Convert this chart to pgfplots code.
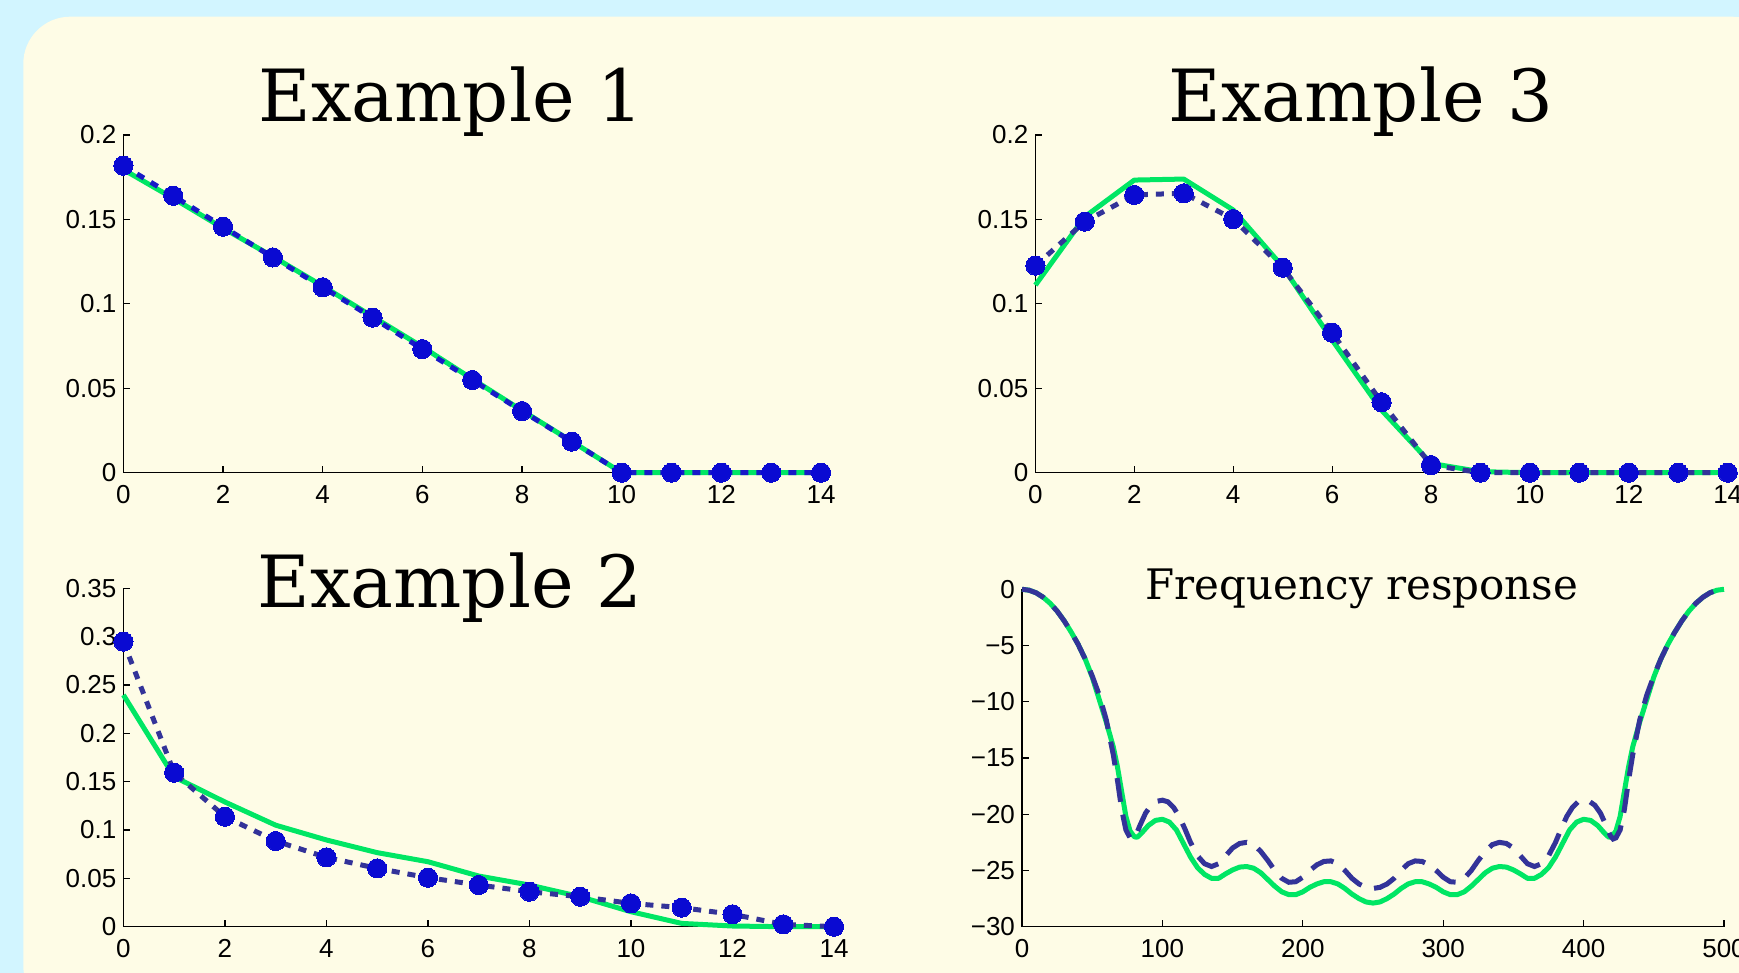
\documentclass[border=0pt]{standalone}
\usepackage{fontspec}
\usepackage{pgfplots}
\pgfplotsset{compat=1.18}
\newfontfamily\tickfont{Liberation Sans}
\newfontfamily\titlefont{DejaVu Serif}
\definecolor{bgcyan}{HTML}{D2F5FF}
\definecolor{cream}{HTML}{FEFCE6}
\definecolor{lgreen}{RGB}{0,230,100}
\definecolor{mblue}{RGB}{10,10,210}
\definecolor{dblue}{HTML}{333399}
\definecolor{bone}{RGB}{25,25,200}
\pgfplotsset{
  myaxis/.style={
    scale only axis, anchor=south west,
    axis lines=left, axis line style={-, line width=0.6pt, black},
    tick align=inside, major tick length=3.5pt,
    every tick/.style={black, line width=0.6pt},
    tick label style={font=\tickfont\fontsize{13}{13}\selectfont},
    xticklabel style={yshift=-2.7pt},
    clip=false,
  },
  greenline/.style={color=lgreen, line width=2.5pt, line join=round, mark=none},
  dotline/.style={line width=2.5pt, dash pattern=on 4pt off 4pt, mark=*, mark size=4.8pt,
    mark options={solid, fill=mblue, draw=mblue, line width=0pt}},
}
\begin{document}
\begin{tikzpicture}
\useasboundingbox (0,0) rectangle (869.5pt,486.5pt);
\clip (0,0) rectangle (869.5pt,486.5pt);
\fill[bgcyan] (0,0) rectangle (869.5pt,486.5pt);
\fill[cream, rounded corners=23.5pt] (11.65pt,-20pt) rectangle (889.5pt,478.15pt);

% Example 1
\begin{axis}[myaxis, at={(61.7pt,250.15pt)}, width=348.8pt, height=168.85pt,
  xmin=0, xmax=14, ymin=0, ymax=0.2,
  xtick={0,2,4,6,8,10,12,14}, xticklabels={0,2,4,6,8,10,12,14},
  ytick={0,0.05,0.1,0.15,0.2}, yticklabels={0,0.05,0.1,0.15,0.2}]
\addplot[greenline] coordinates {(0,0.1795) (1,0.1625) (2,0.1448) (3,0.128) (4,0.1105) (5,0.0925) (6,0.0745) (7,0.0555) (8,0.0368) (9,0.0185) (10,0) (11,0) (12,0) (13,0) (14,0)};
\addplot[dotline, color=bone] coordinates {(0,0.1818) (1,0.164) (2,0.1457) (3,0.1275) (4,0.1098) (5,0.0918) (6,0.0732) (7,0.0549) (8,0.0365) (9,0.0184) (10,0) (11,0) (12,0) (13,0) (14,0)};
\end{axis}

% Example 3
\begin{axis}[myaxis, at={(517.7pt,250.15pt)}, width=346.15pt, height=168.85pt,
  xmin=0, xmax=14, ymin=0, ymax=0.2,
  xtick={0,2,4,6,8,10,12,14}, xticklabels={0,2,4,6,8,10,12,14},
  ytick={0,0.05,0.1,0.15,0.2}, yticklabels={0,0.05,0.1,0.15,0.2}]
\addplot[greenline] coordinates {(0,0.1111) (1,0.1516) (2,0.1733) (3,0.1739) (4,0.1556) (5,0.122) (6,0.0786) (7,0.037) (8,0.0055) (9,0.0006) (10,0) (11,0) (12,0) (13,0) (14,0)};
\addplot[dotline, color=dblue] coordinates {(0,0.1226) (1,0.1487) (2,0.1645) (3,0.1655) (4,0.1502) (5,0.1214) (6,0.0829) (7,0.0417) (8,0.0045) (9,0) (10,0) (11,0) (12,0) (13,0) (14,0)};
\end{axis}

% Example 2
\begin{axis}[myaxis, at={(61.7pt,23.15pt)}, width=355.3pt, height=169.2pt,
  xmin=0, xmax=14, ymin=0, ymax=0.35,
  xtick={0,2,4,6,8,10,12,14}, xticklabels={0,2,4,6,8,10,12,14},
  ytick={0,0.05,0.1,0.15,0.2,0.25,0.3,0.35}, yticklabels={0,0.05,0.1,0.15,0.2,0.25,0.3,0.35}]
\addplot[greenline] coordinates {(0,0.2397) (1,0.155) (2,0.129) (3,0.105) (4,0.0897) (5,0.0766) (6,0.0672) (7,0.0524) (8,0.0431) (9,0.031) (10,0.0155) (11,0.0034) (12,0.0007) (13,0) (14,0)};
\addplot[dotline, color=dblue] coordinates {(0,0.2948) (1,0.1593) (2,0.1138) (3,0.0886) (4,0.0717) (5,0.0603) (6,0.0507) (7,0.0431) (8,0.0362) (9,0.031) (10,0.0241) (11,0.0197) (12,0.0128) (13,0.0024) (14,0)};
\end{axis}

% Frequency response
\begin{axis}[myaxis, at={(511pt,23.15pt)}, width=351pt, height=168.7pt,
  xmin=0, xmax=500, ymin=-30, ymax=0,
  xtick={0,100,200,300,400,500}, xticklabels={0,100,200,300,400,500},
  ytick={-30,-25,-20,-15,-10,-5,0}, yticklabels={−30,−25,−20,−15,−10,−5,0}]
\addplot[greenline] coordinates {
(0,0) (5,-0.08) (10,-0.31) (15,-0.7) (20,-1.24) (25,-1.94) (30,-2.8) (35,-3.8) (40,-4.9) (45,-6.2)
(50,-7.8) (55,-9.8) (60,-11.8) (65,-14.0) (68,-15.8) (71,-18.0) (74,-20.2) (77,-21.5) (80,-22.0) (82,-22.05)
(85,-21.7) (90,-21.0) (95,-20.55) (100,-20.45) (105,-20.7) (110,-21.4) (115,-22.6) (120,-23.8) (125,-24.75) (130,-25.35)
(135,-25.7) (140,-25.7) (145,-25.3) (150,-24.95) (155,-24.7) (160,-24.65) (165,-24.8) (170,-25.2) (175,-25.8) (180,-26.4)
(185,-26.9) (190,-27.15) (195,-27.15) (200,-26.9) (205,-26.5) (210,-26.2) (215,-26.0) (220,-26.0) (225,-26.2) (230,-26.6)
(235,-27.1) (240,-27.5) (245,-27.8) (250,-27.9)
(255,-27.8) (260,-27.5) (265,-27.1) (270,-26.6) (275,-26.2) (280,-26.0) (285,-26.0) (290,-26.2) (295,-26.5) (300,-26.9)
(305,-27.15) (310,-27.15) (315,-26.9) (320,-26.4) (325,-25.8) (330,-25.2) (335,-24.8) (340,-24.65) (345,-24.7) (350,-24.95)
(355,-25.3) (360,-25.7) (365,-25.7) (370,-25.35) (375,-24.75) (380,-23.8) (385,-22.6) (390,-21.4) (395,-20.7) (400,-20.45)
(405,-20.55) (410,-21.0) (415,-21.7) (418,-22.05) (420,-22.0) (423,-21.5) (426,-20.2) (429,-18.0) (432,-15.8) (435,-14.0)
(440,-11.8) (445,-9.8) (450,-7.8) (455,-6.2) (460,-4.9) (465,-3.8) (470,-2.8) (475,-1.94) (480,-1.24) (485,-0.7)
(490,-0.31) (495,-0.08) (500,0)};
\addplot[color=dblue, line width=2.5pt, dash pattern=on 12pt off 6.5pt, mark=none] coordinates {
(0,0) (5,-0.08) (10,-0.31) (15,-0.7) (20,-1.24) (25,-1.94) (30,-2.8) (35,-3.8) (40,-4.9) (45,-6.2)
(50,-7.7) (55,-9.4) (60,-11.6) (65,-14.7) (68,-17.0) (71,-19.6) (74,-21.4) (77,-22.1) (79,-22.2) (81,-21.9)
(84,-21.0) (88,-19.9) (92,-19.2) (96,-18.85) (100,-18.75) (104,-18.9) (108,-19.4) (112,-20.2) (116,-21.3) (120,-22.5)
(125,-23.7) (130,-24.4) (135,-24.65) (140,-24.4) (145,-23.7) (150,-23.0) (155,-22.6) (160,-22.5) (165,-22.7) (170,-23.3)
(175,-24.1) (180,-25.0) (185,-25.7) (190,-26.05) (195,-26.0) (200,-25.6) (205,-25.0) (210,-24.5) (215,-24.2) (220,-24.15)
(225,-24.4) (230,-25.0) (235,-25.7) (240,-26.2) (245,-26.5) (250,-26.6)
(255,-26.5) (260,-26.2) (265,-25.7) (270,-25.0) (275,-24.4) (280,-24.15) (285,-24.2) (290,-24.5) (295,-25.0) (300,-25.6)
(305,-26.0) (310,-26.05) (315,-25.7) (320,-25.0) (325,-24.1) (330,-23.3) (335,-22.7) (340,-22.5) (345,-22.6) (350,-23.0)
(355,-23.7) (360,-24.4) (365,-24.65) (370,-24.4) (375,-23.7) (380,-22.5) (384,-21.3) (388,-20.2) (392,-19.4) (396,-18.9)
(400,-18.75) (404,-18.85) (408,-19.2) (412,-19.9) (416,-21.0) (419,-21.9) (421,-22.2) (423,-22.1) (426,-21.4) (429,-19.6)
(432,-17.0) (435,-14.7) (440,-11.6) (445,-9.4) (450,-7.7) (455,-6.2) (460,-4.9) (465,-3.8) (470,-2.8) (475,-1.94)
(480,-1.24) (485,-0.7) (490,-0.31) (495,-0.08) (500,0)};
\end{axis}

\node[anchor=base, font=\titlefont\fontsize{36}{36}\selectfont] at (225.5pt,425.65pt) {Example 1};
\node[anchor=base, font=\titlefont\fontsize{36}{36}\selectfont] at (680.5pt,425.65pt) {Example 3};
\node[anchor=base, font=\titlefont\fontsize{36}{36}\selectfont] at (225pt,182.5pt) {Example 2};
\node[anchor=base, font=\titlefont\fontsize{21}{21}\selectfont] at (681pt,186.5pt) {Frequency response};
\end{tikzpicture}
\end{document}
